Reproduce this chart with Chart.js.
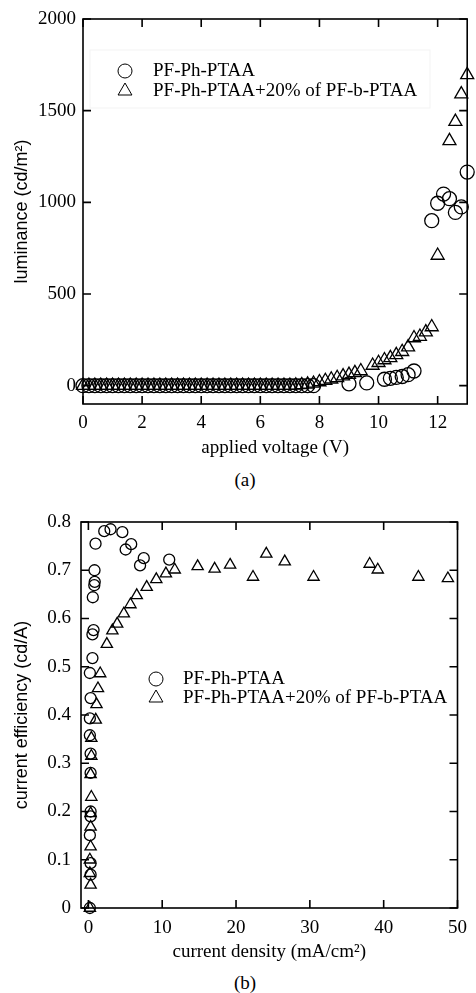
<!DOCTYPE html>
<html>
<head>
<meta charset="utf-8">
<script src="https://cdn.jsdelivr.net/npm/chart.js@4.4.1/dist/chart.umd.min.js"></script>
<style>
  body { margin: 0; background: #fff; width: 476px; height: 993px; position: relative; overflow: hidden; }
  canvas { position: absolute; left: 0; }
  #chartA { top: 0; }
  #chartB { top: 500px; }
  .cap { position: absolute; left: 0; width: 490px; text-align: center; font: 19px 'Liberation Serif', 'Times New Roman', serif; line-height: 22px; color: #000; }
</style>
</head>
<body>
<canvas id="chartA" width="476" height="460"></canvas>
<div class="cap" style="top:469px">(a)</div>
<canvas id="chartB" width="476" height="470"></canvas>
<div class="cap" style="top:972px">(b)</div>
<script>
// (a) luminance vs applied voltage
const seriesNames = ['PF-Ph-PTAA', 'PF-Ph-PTAA+20% of PF-b-PTAA'];

const voltCirc = [0, 0.2, 0.4, 0.6, 0.8, 1.0, 1.2, 1.4, 1.6, 1.8, 2.0, 2.2, 2.4, 2.6, 2.8, 3.0, 3.2, 3.4, 3.6, 3.8,
  4.0, 4.2, 4.4, 4.6, 4.8, 5.0, 5.2, 5.4, 5.6, 5.8, 6.0, 6.2, 6.4, 6.6, 6.8, 7.0, 7.2, 7.4, 7.6, 7.8,
  9.0, 9.6, 10.2, 10.4, 10.6, 10.8, 11.0, 11.2, 11.8, 12.0, 12.2, 12.4, 12.6, 12.8, 13.0];
const lumCirc = [0, 0, 0, 0, 0, 0, 0, 0, 0, 0, 0, 0, 0, 0, 0, 0, 0, 0, 0, 0,
  0, 0, 0, 0, 0, 0, 0, 0, 0, 0, 0, 0, 0, 0, 0, 0, 0, 0, 0, 0,
  10, 15, 35, 40, 45, 50, 60, 80, 900, 995, 1045, 1020, 945, 975, 1165];

const voltTri = [0, 0.2, 0.4, 0.6, 0.8, 1.0, 1.2, 1.4, 1.6, 1.8, 2.0, 2.2, 2.4, 2.6, 2.8, 3.0, 3.2, 3.4, 3.6, 3.8,
  4.0, 4.2, 4.4, 4.6, 4.8, 5.0, 5.2, 5.4, 5.6, 5.8, 6.0, 6.2, 6.4, 6.6, 6.8, 7.0, 7.2, 7.4, 7.6, 7.8,
  8.0, 8.2, 8.4, 8.6, 8.8, 9.0, 9.2, 9.4, 9.8, 10.0, 10.2, 10.4, 10.6, 10.8, 11.0, 11.2, 11.4, 11.6, 11.8,
  12.0, 12.4, 12.6, 12.8, 13.0];
const lumTri = [0, 0, 0, 0, 0, 0, 0, 0, 0, 0, 0, 0, 0, 0, 0, 0, 0, 0, 0, 0,
  0, 0, 0, 0, 0, 0, 0, 0, 0, 0, 0, 0, 0, 0, 0, 0, 2, 4, 7, 12,
  20, 27, 35, 43, 52, 60, 70, 80, 110, 125, 140, 152, 168, 185, 210, 260, 268, 292, 320,
  710, 1335, 1440, 1590, 1695];

const voltTicks = [0, 2, 4, 6, 8, 10, 12];
const lumTicks = [0, 500, 1000, 1500, 2000];

// (b) current efficiency vs current density
const jCirc = [0.2, 0.3, 0.3, 0.2, 0.3, 0.3, 0.3, 0.3, 0.2, 0.2, 0.3, 0.2, 0.55, 0.55, 0.7, 0.6, 0.8, 0.86, 0.83,
  0.97, 2.15, 3.0, 4.6, 5.05, 5.8, 7.0, 7.5, 10.95];
const effCirc = [0.0, 0.069, 0.093, 0.151, 0.19, 0.2, 0.28, 0.32, 0.358, 0.393, 0.435, 0.487, 0.518, 0.567, 0.576,
  0.644, 0.669, 0.676, 0.70, 0.755, 0.781, 0.785, 0.779, 0.743, 0.754, 0.71, 0.725, 0.722];

const jTri = [0.2, 0.3, 0.2, 0.2, 0.3, 0.3, 0.3, 0.4, 0.3, 0.4, 0.4, 1.0, 1.1, 1.3, 1.6, 2.5, 3.25, 3.9, 4.8, 5.7,
  6.55, 7.9, 9.2, 10.5, 11.7, 14.8, 17.1, 19.2, 22.3, 24.1, 26.6, 30.5, 38.1, 39.2, 44.7, 48.7];
const effTri = [0.0, 0.048, 0.072, 0.1, 0.127, 0.168, 0.196, 0.23, 0.277, 0.315, 0.352, 0.39, 0.422, 0.455, 0.486,
  0.547, 0.575, 0.589, 0.61, 0.629, 0.648, 0.665, 0.681, 0.693, 0.701, 0.708, 0.703, 0.711, 0.686, 0.734, 0.718,
  0.686, 0.713, 0.701, 0.686, 0.683];

const jTicks = [0, 10, 20, 30, 40, 50];
const effTicks = [0, 0.1, 0.2, 0.3, 0.4, 0.5, 0.6, 0.7, 0.8];

const zip = (xs, ys) => xs.map((x, i) => ({ x: x, y: ys[i] }));
const serif = "'Liberation Serif', 'Times New Roman', serif";
const sans = "'Liberation Sans', Arial, sans-serif";

Chart.defaults.color = '#000';
Chart.defaults.animation = false;

// box, inward ticks on all four sides, and the legend inside the plot
const frame = {
  id: 'frame',
  afterDatasetsDraw(chart, args, o) {
    const { ctx, chartArea: a, scales } = chart;
    ctx.save();
    ctx.strokeStyle = '#000';
    ctx.lineWidth = 1.6;
    ctx.strokeRect(a.left, a.top, a.right - a.left, a.bottom - a.top);
    ctx.beginPath();
    scales.x.ticks.forEach(t => {
      const px = scales.x.getPixelForValue(t.value);
      ctx.moveTo(px, a.bottom); ctx.lineTo(px, a.bottom - 8);
      ctx.moveTo(px, a.top); ctx.lineTo(px, a.top + 8);
    });
    scales.y.ticks.forEach(t => {
      const py = scales.y.getPixelForValue(t.value);
      ctx.moveTo(a.left, py); ctx.lineTo(a.left + 8, py);
      ctx.moveTo(a.right, py); ctx.lineTo(a.right - 8, py);
    });
    ctx.stroke();

    if (o.box) {
      ctx.strokeStyle = '#f3f3f3';
      ctx.lineWidth = 1;
      ctx.strokeRect(o.box[0], o.box[1], o.box[2], o.box[3]);
    }
    ctx.font = '19px ' + serif;
    ctx.textBaseline = 'middle';
    ctx.fillStyle = '#000';
    chart.data.datasets.forEach((ds, i) => {
      const y = o.y + i * o.gap;
      ctx.strokeStyle = '#000';
      ctx.lineWidth = 1;
      ctx.fillStyle = 'rgba(0,0,0,0)';
      Chart.helpers.drawPoint(ctx, { pointStyle: ds.pointStyle, radius: ds.pointStyle === 'circle' ? 7 : 8, rotation: 0, borderWidth: 1 }, o.markX, y);
      ctx.fillStyle = '#000';
      ctx.fillText(ds.label, o.textX, y);
    });
    ctx.restore();
  }
};

function makeSet(label, style, pts, r) {
  return {
    label: label,
    data: pts,
    pointStyle: style,
    pointRadius: r,
    pointHoverRadius: r,
    pointBorderWidth: 1.3,
    borderColor: '#000',
    pointBorderColor: '#000',
    backgroundColor: 'rgba(0,0,0,0)',
    pointBackgroundColor: 'rgba(0,0,0,0)',
    showLine: false,
    clip: false
  };
}

function keepTicks(list) {
  return s => { s.ticks = list.map(v => ({ value: v })); };
}

new Chart(document.getElementById('chartA'), {
  type: 'scatter',
  data: {
    datasets: [
      makeSet(seriesNames[0], 'circle', zip(voltCirc, lumCirc), 7),
      makeSet(seriesNames[1], 'triangle', zip(voltTri, lumTri), 7.5)
    ]
  },
  options: {
    responsive: false,
    layout: { padding: { top: 19, right: 6, left: 0, bottom: 0 } },
    plugins: {
      legend: { display: false },
      tooltip: { enabled: false },
      frame: { markX: 125, textX: 153, y: 71, gap: 20, box: [90, 50, 340, 58] }
    },
    scales: {
      x: {
        type: 'linear',
        min: 0, max: 13,
        afterBuildTicks: keepTicks(voltTicks),
        afterFit: s => { s.height = 56; },
        grid: { display: false, drawTicks: false },
        border: { display: false },
        ticks: { padding: 8, font: { family: serif, size: 19 }, callback: v => String(v) },
        title: { display: true, text: 'applied voltage (V)', font: { family: serif, size: 19 }, padding: { top: 0, bottom: 1 } }
      },
      y: {
        type: 'linear',
        min: -100, max: 2000,
        afterBuildTicks: keepTicks(lumTicks),
        afterFit: s => { s.width = 83; },
        grid: { display: false, drawTicks: false },
        border: { display: false },
        ticks: { padding: 7, font: { family: serif, size: 19 }, callback: v => String(v) },
        title: { display: true, text: 'luminance (cd/m²)', font: { family: sans, size: 18 }, padding: { top: 11, bottom: 0 } }
      }
    }
  },
  plugins: [frame]
});

new Chart(document.getElementById('chartB'), {
  type: 'scatter',
  data: {
    datasets: [
      makeSet(seriesNames[0], 'circle', zip(jCirc, effCirc), 5.5),
      makeSet(seriesNames[1], 'triangle', zip(jTri, effTri), 6.5)
    ]
  },
  options: {
    responsive: false,
    layout: { padding: { top: 22, right: 10, left: 0, bottom: 0 } },
    plugins: {
      legend: { display: false },
      tooltip: { enabled: false },
      frame: { markX: 156, textX: 183, y: 179, gap: 19 }
    },
    scales: {
      x: {
        type: 'linear',
        min: -1, max: 50,
        afterBuildTicks: keepTicks(jTicks),
        afterFit: s => { s.height = 62; },
        grid: { display: false, drawTicks: false },
        border: { display: false },
        ticks: { padding: 9, font: { family: serif, size: 19 }, callback: v => String(v) },
        title: { display: true, text: 'current density (mA/cm²)', font: { family: serif, size: 19 }, padding: { top: 0, bottom: 7 } }
      },
      y: {
        type: 'linear',
        min: 0, max: 0.8,
        afterBuildTicks: keepTicks(effTicks),
        afterFit: s => { s.width = 81; },
        grid: { display: false, drawTicks: false },
        border: { display: false },
        ticks: { padding: 10, font: { family: serif, size: 19 }, callback: v => String(Math.round(v * 10) / 10) },
        title: { display: true, text: 'current efficiency (cd/A)', font: { family: sans, size: 18 }, padding: { top: 11, bottom: 0 } }
      }
    }
  },
  plugins: [frame]
});
</script>
</body>
</html>
